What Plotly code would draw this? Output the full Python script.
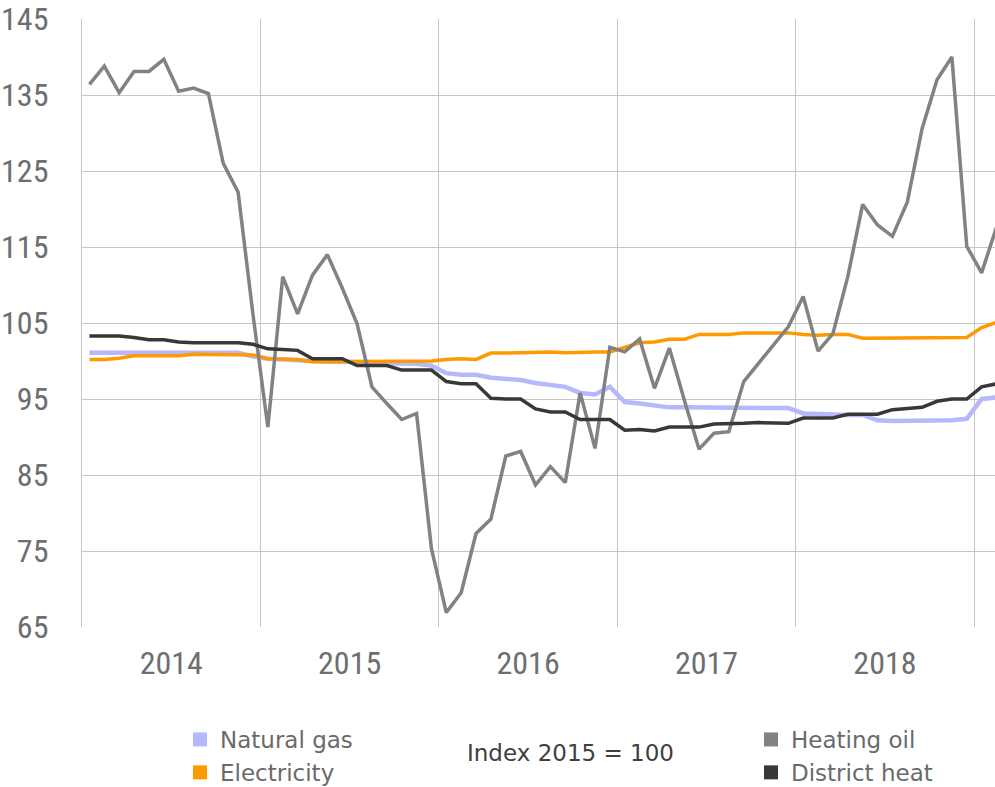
import plotly.graph_objects as go

months = [f"{y}-{m:02d}" for y in range(2014, 2020) for m in range(1, 13)][:62]

heating_oil = [136.4, 138.8, 135.3, 138.1, 138.1, 139.7, 135.5, 135.9, 135.2, 126.0, 122.2, 106.1,
               91.3, 111.1, 106.2, 111.3, 114.0, 109.6, 104.9, 96.6, 94.4, 92.3, 93.1, 75.3,
               66.9, 69.5, 77.3, 79.2, 87.5, 88.1, 83.7, 86.1, 84.0, 95.8, 88.5, 101.8,
               101.2, 102.9, 96.4, 101.7, 94.9, 88.4, 90.5, 90.7, 97.3, 99.7, 102.1, 104.5,
               108.5, 101.3, 103.6, 111.1, 120.6, 117.9, 116.4, 120.9, 130.6, 137.0, 140.0, 115.1,
               111.6, 117.6]

district_heat = [103.3, 103.3, 103.3, 103.1, 102.8, 102.8, 102.5, 102.4, 102.4, 102.4, 102.4, 102.2,
                 101.6, 101.5, 101.4, 100.3, 100.3, 100.3, 99.4, 99.4, 99.4, 98.8, 98.8, 98.8,
                 97.3, 97.0, 97.0, 95.1, 95.0, 95.0, 93.7, 93.3, 93.3, 92.3, 92.3, 92.3,
                 90.9, 91.0, 90.8, 91.3, 91.3, 91.3, 91.7, 91.7, 91.8, 91.9, 91.9, 91.8,
                 92.5, 92.5, 92.5, 93.0, 93.0, 93.0, 93.6, 93.7, 93.9, 94.7, 95.0, 95.0,
                 96.6, 97.0]

electricity = [100.2, 100.2, 100.35, 100.7, 100.7, 100.7, 100.7, 100.9, 100.9, 100.9, 100.9, 100.8,
               100.3, 100.2, 100.2, 99.9, 99.9, 99.9, 99.9, 99.9, 99.9, 99.9, 99.9, 100.0,
               100.2, 100.3, 100.2, 101.05, 101.05, 101.1, 101.2, 101.2, 101.1, 101.2, 101.2, 101.2,
               101.85, 102.4, 102.5, 102.85, 102.85, 103.5, 103.5, 103.5, 103.7, 103.7, 103.7, 103.7,
               103.5, 103.4, 103.5, 103.5, 103.0, 103.0, 103.0, 103.0, 103.0, 103.0, 103.0, 103.1,
               104.4, 105.1]

natural_gas = [101.1, 101.1, 101.1, 101.0, 101.0, 101.1, 101.1, 101.1, 101.1, 101.1, 101.1, 100.6,
               100.3, 100.2, 100.1, 99.95, 99.9, 99.9, 99.9, 99.85, 99.7, 99.65, 99.65, 99.4,
               98.4, 98.2, 98.2, 97.8, 97.7, 97.5, 97.1, 96.9, 96.6, 95.8, 95.6, 96.6,
               94.6, 94.4, 94.2, 93.9, 93.9, 93.9, 93.8, 93.8, 93.8, 93.8, 93.8, 93.8,
               93.1, 93.0, 93.0, 92.9, 92.9, 92.2, 92.1, 92.1, 92.1, 92.2, 92.2, 92.4,
               95.0, 95.2]

years = ["2014", "2015", "2016", "2017", "2018"]
y_ticks = [65, 75, 85, 95, 105, 115, 125, 135, 145]

x = list(range(len(months)))
year_mid = [12 * i + 5.5 for i in range(len(years))]
year_bounds = [12 * i - 0.5 for i in range(1, 6)]

C_GAS = "#b7b7fb"
C_ELEC = "#ff9900"
C_OIL = "#828282"
C_DH = "#383838"
AX_FONT = "Liberation Sans Narrow, Roboto Condensed, Roboto, sans-serif"
LG_FONT = "DejaVu Sans, sans-serif"

fig = go.Figure()
fig.add_trace(go.Scatter(x=x, y=natural_gas, mode="lines", line=dict(color=C_GAS, width=4.5),
                         showlegend=False, hovertext=months))
fig.add_trace(go.Scatter(x=x, y=electricity, mode="lines", line=dict(color=C_ELEC, width=3.5),
                         showlegend=False, hovertext=months))
fig.add_trace(go.Scatter(x=x, y=heating_oil, mode="lines", line=dict(color=C_OIL, width=3.5),
                         showlegend=False, hovertext=months))
fig.add_trace(go.Scatter(x=x, y=district_heat, mode="lines", line=dict(color=C_DH, width=3.5),
                         showlegend=False, hovertext=months))

# legend entries (square swatches)
for name, col, lg in [("Natural gas", C_GAS, "legend"), ("Electricity", C_ELEC, "legend"),
                      ("Heating oil", C_OIL, "legend2"), ("District heat", C_DH, "legend2")]:
    fig.add_trace(go.Scatter(x=[None], y=[None], mode="markers", name=name,
                             marker=dict(symbol="square", size=14, color=col),
                             legend=lg))

PH = 608.0
LEG_MID = (627 - 756) / PH
fig.update_layout(
    width=995, height=787,
    margin=dict(l=82, r=0, t=19, b=160, autoexpand=False),
    plot_bgcolor="white", paper_bgcolor="white",
    xaxis=dict(
        range=[-0.5, 60.9],
        tickmode="array", tickvals=year_mid, ticktext=years,
        showgrid=False, zeroline=False, ticks="",
        tickfont=dict(family=AX_FONT, size=32, color="#6e6e6e"),
        ticklabelstandoff=14,
        minor=dict(tickmode="array", tickvals=year_bounds, showgrid=True,
                   gridcolor="#c6c6c6", gridwidth=1.3, ticks=""),
        showline=False,
    ),
    yaxis=dict(
        range=[65, 145], tickmode="array", tickvals=y_ticks,
        showgrid=True, gridcolor="#c6c6c6", gridwidth=1.3, zeroline=False,
        ticks="", ticklabelstandoff=26,
        tickfont=dict(family=AX_FONT, size=32, color="#6e6e6e"),
        showline=True, linecolor="#c6c6c6", linewidth=1.3,
    ),
    legend=dict(x=(180 - 82) / 913, y=LEG_MID, xanchor="left", yanchor="middle",
                orientation="v", font=dict(family=LG_FONT, size=23, color="#6a6a6a"),
                bgcolor="rgba(0,0,0,0)", tracegroupgap=0, itemwidth=30),
    legend2=dict(x=(751 - 82) / 913, y=LEG_MID, xanchor="left", yanchor="middle",
                 orientation="v", font=dict(family=LG_FONT, size=23, color="#6a6a6a"),
                 bgcolor="rgba(0,0,0,0)", tracegroupgap=0, itemwidth=30),
    annotations=[dict(text="Index 2015 = 100", x=(570 - 82) / 913, y=(627 - 753) / PH,
                      xref="paper", yref="paper", showarrow=False, xanchor="center", yanchor="middle",
                      font=dict(family=LG_FONT, size=23, color="#404040"))],
)

fig.write_html("out.html", config={"displayModeBar": False},
               post_script="document.body.style.margin='0';")
